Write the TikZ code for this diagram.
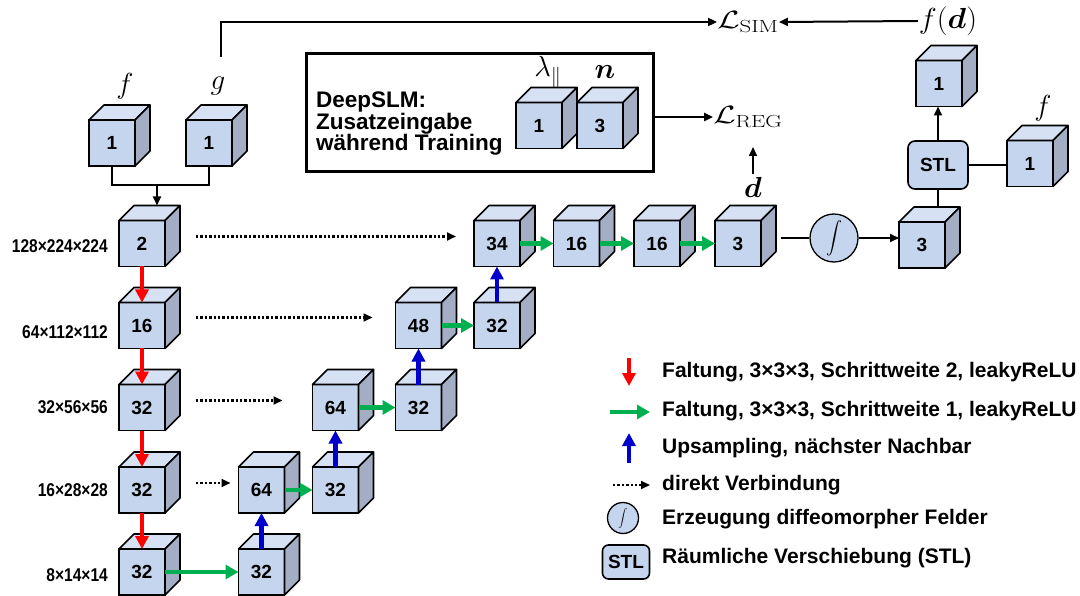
\RequirePackage{fix-cm}
\documentclass[tikz,border=0pt]{standalone}
\usepackage[no-math]{fontspec}
\setmainfont{Liberation Sans}
\newfontfamily\narrowfont{Liberation Sans}[FakeStretch=0.84]
\usepackage{amsmath,amssymb,graphicx}
\usetikzlibrary{arrows.meta,calc}

\definecolor{cubefront}{HTML}{C6D5EE}
\definecolor{cubetop}{HTML}{D6E1F4}
\definecolor{cubeside}{HTML}{A3AEC5}
\definecolor{convred}{HTML}{FF0000}
\definecolor{convgreen}{HTML}{00B050}
\definecolor{upblue}{HTML}{0000CC}

% one feature-map block: front face as a node, top and side faces drawn from its anchors
\newcommand\cubeblock[3]{%
  \node[cubenode] (#1) at (#2) {#3};
  \draw[cubeedge, fill=cubetop] (#1.north west) -- ++(15,-15) -- ++(46,0) -- (#1.north east) -- cycle;
  \draw[cubeedge, fill=cubeside] (#1.north east) -- ++(15,-15) -- ++(0,46) -- (#1.south east) -- cycle;
}
% stretched math for the loss symbols
\newcommand\widemath[2]{\scalebox{#1}[1]{$#2$}}

\begin{document}
\begin{tikzpicture}[x=1pt,y=-1pt,
  cubenode/.style={draw, line width=1.6pt, fill=cubefront, minimum width=46pt, minimum height=46pt,
    inner sep=0pt, outer sep=0pt, font=\fontsize{19}{20}\selectfont\bfseries},
  cubeedge/.style={line width=1.6pt, line join=round},
  dimlabel/.style={anchor=east, inner sep=0pt, font=\narrowfont\fontsize{18.5}{20}\selectfont\bfseries},
  legtext/.style={anchor=west, inner sep=0pt, font=\fontsize{21}{24}\selectfont\bfseries},
  mathlabel/.style={inner sep=1pt, font=\fontsize{29}{31}\selectfont},
  losslabel/.style={inner sep=0pt, font=\fontsize{25}{27}\selectfont},
  conn/.style={line width=2pt},
  arr/.style={line width=2pt, -{Triangle[length=9pt,width=8pt]}},
  skip/.style={line width=2.2pt, dash pattern=on 2.4pt off 2pt, -{Triangle[length=9pt,width=8pt]}},
  down/.style={line width=4.5pt, draw=convred, -{Triangle[length=13pt,width=13pt]}},
  conv/.style={line width=4.5pt, draw=convgreen, -{Triangle[length=13pt,width=14pt]}},
  up/.style={line width=4.5pt, draw=upblue, -{Triangle[length=13pt,width=13pt]}},
  stlbox/.style={draw, line width=1.6pt, fill=cubefront, rounded corners=7pt, inner sep=0pt,
    font=\fontsize{19}{20}\selectfont\bfseries},
  intcircle/.style={draw, line width=1.3pt, fill=cubefront, circle, inner sep=0pt}
]
\useasboundingbox (0,0) rectangle (1080,596);
\fill[white] (0,0) rectangle (1080,596);

% ---------- inputs ----------
\cubeblock{fin}{112,143}{1}
\cubeblock{gin}{209,143}{1}
\node[mathlabel] (flab) at (125,86) {$f$};
\node[mathlabel] (glab) at (218,86) {$g$};

% ---------- encoder ----------
\cubeblock{e1}{142,243.5}{2}
\cubeblock{e2}{142,325.5}{16}
\cubeblock{e3}{142,407.5}{32}
\cubeblock{e4}{142,490}{32}
\cubeblock{e5}{142,572}{32}

\node[dimlabel] (s1) at (108,246) {128×224×224};
\node[dimlabel] (s2) at (108,332) {64×112×112};
\node[dimlabel] (s3) at (108,407) {32×56×56};
\node[dimlabel] (s4) at (108,490) {16×28×28};
\node[dimlabel] (s5) at (108,575) {8×14×14};

% ---------- decoder ----------
\cubeblock{u5}{261.5,572}{32}
\cubeblock{u4a}{261.5,490}{64}
\cubeblock{u4b}{335.5,490}{32}
\cubeblock{u3a}{335.5,407.5}{64}
\cubeblock{u3b}{418.5,407.5}{32}
\cubeblock{u2a}{418.5,325.5}{48}
\cubeblock{u2b}{497,325.5}{32}
\cubeblock{u1a}{497,243.5}{34}
\cubeblock{u1b}{576.5,243.5}{16}
\cubeblock{u1c}{657,243.5}{16}
\cubeblock{flow}{738,243.5}{3}

% ---------- integration and warping ----------
\node[intcircle, minimum size=48pt] (integ) at (834,238) {\fontsize{16}{16}\selectfont$\displaystyle\int$};
\cubeblock{warp}{922,245}{3}
\node[stlbox, minimum width=60pt, minimum height=48pt] (stl) at (938,165) {STL};
\cubeblock{moved}{939,83.5}{1}
\cubeblock{fix2}{1030,163.5}{1}
\node[mathlabel] (flab2) at (1043,108) {$f$};
\node[mathlabel] (fd) at (948,21) {\widemath{1.05}{f(\boldsymbol{d})}};

% ---------- losses ----------
\node[losslabel] (lsim) at (748,22) {\widemath{1.3}{\mathcal{L}_{\mathrm{SIM}}}};
\node[losslabel] (lreg) at (748,117) {\widemath{1.3}{\mathcal{L}_{\mathrm{REG}}}};
\node[mathlabel, inner sep=0pt] (dlab) at (753,187) {$\boldsymbol{d}$};

% ---------- auxiliary training input ----------
\node[draw, line width=3pt, minimum width=347pt, minimum height=118pt, inner sep=0pt] (aux) at (480,112.5) {};
\node[anchor=west, align=left, inner sep=0pt, font=\fontsize{22.5}{21.5}\selectfont\bfseries] (auxtext) at (316,124)
  {DeepSLM:\\Zusatzeingabe\\während Training};
\cubeblock{lam}{539,125.5}{1}
\cubeblock{nrm}{600,125.5}{3}
\node[mathlabel] (lamlab) at (548,72) {$\lambda_{\|}$};
\node[mathlabel] (nlab) at (605,72) {$\boldsymbol{n}$};

% ---------- connectors ----------
\coordinate (mg) at (157,185);
\draw[conn] (fin.south) |- (mg) -| (gin.south);
\draw[arr] (mg) -- ($(e1.north)+(15,-15)$);

\draw[down] (e1.south) -- (e2.north);
\draw[down] (e2.south) -- (e3.north);
\draw[down] (e3.south) -- (e4.north);
\draw[down] (e4.south) -- (e5.north);

\draw[conv] (e5.east) -- (u5.west);
\draw[conv] (u4a.east) -- (u4b.west);
\draw[conv] (u3a.east) -- (u3b.west);
\draw[conv] (u2a.east) -- (u2b.west);
\draw[conv] (u1a.east) -- (u1b.west);
\draw[conv] (u1b.east) -- (u1c.west);
\draw[conv] (u1c.east) -- (flow.west);

\draw[up] (u5.north) -- (u4a.south);
\draw[up] (u4b.north) -- (u3a.south);
\draw[up] (u3b.north) -- (u2a.south);
\draw[up] (u2b.north) -- (u1a.south);

\draw[skip, shorten <=31pt, shorten >=18pt] ([yshift=7pt]e1.east) -- ([yshift=7pt]u1a.west);
\draw[skip, shorten <=31pt, shorten >=23pt] ([yshift=8pt]e2.east) -- ([yshift=8pt]u2a.west);
\draw[skip, shorten <=31pt, shorten >=30pt] ([yshift=7pt]e3.east) -- ([yshift=7pt]u3a.west);
\draw[skip, shorten <=31pt, shorten >=8pt] ([yshift=7pt]e4.east) -- ([yshift=7pt]u4a.west);

\coordinate (flowright) at ($(flow.east)+(20,0)$);
\draw[conn] (integ.west -| flowright) -- (integ.west);
\draw[arr] (integ.east) -- (integ.east -| warp.west);
\coordinate (warptop) at ($(warp.north)+(15,-15)$);
\draw[conn] (stl.south) -- (stl.south |- warptop);
\draw[arr] (stl.north) -- (stl.north |- moved.south);
\draw[conn] (stl.east) -- (stl.east -| fix2.west);

\draw[arr] (fd.west) -- (lsim.east);
\coordinate (gtap) at (221,57);
\draw[arr] (gtap) |- (lsim.west);
\draw[arr] (aux.east |- lreg.west) -- (lreg.west);
\coordinate (dtip) at (753,147);
\draw[arr, shorten <=3pt] (dlab.north) -- (dtip);

% ---------- legend ----------
\coordinate (kr1) at (629,358); \coordinate (kr2) at (629,386);
\draw[down] (kr1) -- (kr2);
\node[legtext] (t1) at (662,372) {Faltung, 3×3×3, Schrittweite 2, leakyReLU};
\coordinate (kg1) at (610,412); \coordinate (kg2) at (650,412);
\draw[conv] (kg1) -- (kg2);
\node[legtext] (t2) at (662,411) {Faltung, 3×3×3, Schrittweite 1, leakyReLU};
\coordinate (kb1) at (629,463); \coordinate (kb2) at (629,433);
\draw[up] (kb1) -- (kb2);
\node[legtext] (t3) at (662,448) {Upsampling, nächster Nachbar};
\coordinate (kd1) at (613,485); \coordinate (kd2) at (650,485);
\draw[skip] (kd1) -- (kd2);
\node[legtext] (t4) at (662,485) {direkt Verbindung};
\node[intcircle, minimum size=31pt] (kint) at (623,518) {\fontsize{9}{9}\selectfont$\displaystyle\int$};
\node[legtext] (t5) at (662,519) {Erzeugung diffeomorpher Felder};
\node[stlbox, minimum width=47pt, minimum height=34pt, rounded corners=6pt] (kstl) at (626,562) {STL};
\node[legtext] (t6) at (662,558) {Räumliche Verschiebung (STL)};
\end{tikzpicture}
\end{document}
